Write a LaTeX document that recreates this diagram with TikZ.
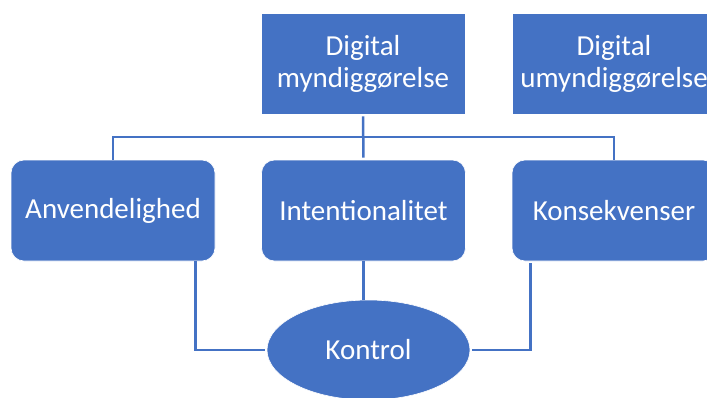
\documentclass[tikz,border=0pt]{standalone}
\usepackage{xcolor}
\usepackage{fontspec}
\setmainfont{Carlito}
\usepackage{tikz}
\usetikzlibrary{shapes.geometric, positioning, calc}

\definecolor{officeblue}{HTML}{4472C4}

\begin{document}
\begin{tikzpicture}[
    x=1pt, y=-1pt,
    topbox/.style={
      rectangle, draw=white, line width=0.6pt, fill=officeblue,
      minimum width=204pt, minimum height=101pt, inner sep=0pt,
      font=\fontsize{29}{32}\selectfont, text=white, align=center
    },
    rowbox/.style={
      topbox, rounded corners=13pt
    },
    ctlell/.style={
      ellipse, fill=officeblue, draw=white, line width=0.6pt,
      minimum width=203pt, minimum height=100pt, inner sep=0pt,
      font=\fontsize{29}{32}\selectfont, text=white
    },
    conn/.style={line width=2.5pt, officeblue, shorten <=2pt, shorten >=2pt},
  ]
  \clip (0,0) rectangle (707,397);

  \node[topbox] (dm) at (363,63.5) {Digital\\myndiggørelse};
  \node[topbox] (du) at (614,63.5) {Digital\\umyndiggørelse};

  \node[rowbox] (anv) at (113,210.5) {Anvendelighed};
  \node[rowbox] (int) at (363.5,210.5) {Intentionalitet};
  \node[rowbox] (kon) at (614,210.5) {Konsekvenser};

  \node[ctlell] (ktr) at (368.5,350) {Kontrol};

  \draw[conn, shorten <=0pt, shorten >=0pt] (anv.north) |- ($(dm.south)!.5!(int.north)$) -| (kon.north);
  \draw[conn] (dm.south) -- (int.north);
  \draw[conn, shorten <=0pt] ([xshift=-20pt]anv.south east) |- (ktr.west);
  \draw[conn, shorten <=0pt, shorten >=0pt] (int.south) -- (int.south |- ktr.north);
  \draw[conn] ([xshift=19pt]kon.south west) |- (ktr.east);
\end{tikzpicture}
\end{document}
